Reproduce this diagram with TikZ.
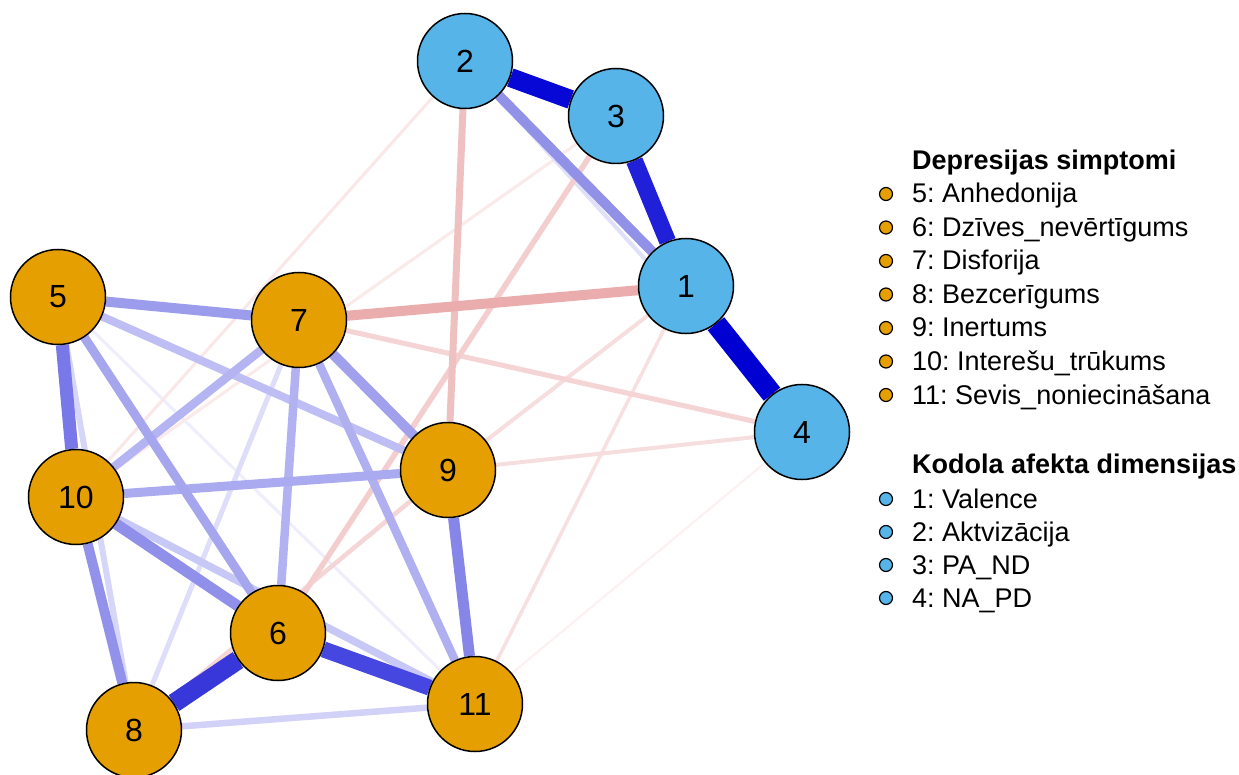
\documentclass[tikz,border=0pt]{standalone}
\usepackage{fontspec}
\setmainfont{Liberation Sans}
\frenchspacing
\pgfdeclarelayer{bg}
\pgfsetlayers{bg,main}
\definecolor{orng}{HTML}{E69F00}
\definecolor{skyb}{HTML}{56B4E9}
\begin{document}
\begin{tikzpicture}[x=1pt,y=-1pt,
  vtx/.style={circle,draw=black,line width=1.5pt,minimum size=95pt,inner sep=0pt,font=\fontsize{32}{32}\selectfont},
  sym/.style={vtx,fill=orng},
  aff/.style={vtx,fill=skyb},
  e/.style 2 args={draw={rgb,255:#1},line width=#2pt,line cap=butt},
  ldot/.style={circle,draw=black,line width=1.2pt,minimum size=13pt,inner sep=0pt},
  ltxt/.style={anchor=base west,font=\fontsize{27}{27}\selectfont,inner sep=0pt},
  lhead/.style={anchor=base west,font=\fontsize{27}{27}\selectfont\bfseries,inner sep=0pt}]
\useasboundingbox (0,0) rectangle (1239,775);
% nodes
\node[aff] (n1) at (686,286) {1};
\node[aff] (n2) at (465,61) {2};
\node[aff] (n3) at (616,116) {3};
\node[aff] (n4) at (802,432) {4};
\node[sym] (n5) at (58,297) {5};
\node[sym] (n6) at (278,633) {6};
\node[sym] (n7) at (299,320) {7};
\node[sym] (n8) at (134,730) {8};
\node[sym] (n9) at (448,470) {9};
\node[sym] (n10) at (76,497) {10};
\node[sym] (n11) at (475,704) {11};
% edges
\begin{pgfonlayer}{bg}
\fill[white] (0,0) rectangle (1239,775);
\draw[e={red,252;green,240;blue,240}{2}] (n11) -- (n4);
\draw[e={red,238;green,238;blue,252}{3}] (n5) -- (n11);
\draw[e={red,250;green,234;blue,234}{3}] (n10) -- (n3);
\draw[e={red,250;green,232;blue,232}{3}] (n10) -- (n2);
\draw[e={red,248;green,224;blue,224}{3.5}] (n11) -- (n1);
\draw[e={red,247;green,222;blue,222}{4}] (n9) -- (n4);
\draw[e={red,247;green,222;blue,222}{4}] (n9) -- (n1);
\draw[e={red,224;green,224;blue,250}{4}] (n2) -- (n4);
\draw[e={red,222;green,222;blue,250}{5}] (n7) -- (n8);
\draw[e={red,245;green,214;blue,214}{4.5}] (n9) -- (n8);
\draw[e={red,244;green,212;blue,212}{5}] (n7) -- (n4);
\draw[e={red,214;green,214;blue,248}{6}] (n5) -- (n8);
\draw[e={red,244;green,206;blue,206}{5.5}] (n3) -- (n6);
\draw[e={red,210;green,210;blue,248}{6.5}] (n8) -- (n11);
\draw[e={red,200;green,200;blue,246}{7.5}] (n10) -- (n11);
\draw[e={red,238;green,192;blue,192}{7}] (n2) -- (n9);
\draw[e={red,190;green,190;blue,244}{8}] (n5) -- (n9);
\draw[e={red,180;green,180;blue,242}{8.5}] (n7) -- (n10);
\draw[e={red,178;green,178;blue,242}{8.5}] (n7) -- (n6);
\draw[e={red,176;green,176;blue,240}{8.5}] (n7) -- (n11);
\draw[e={red,170;green,170;blue,240}{9}] (n10) -- (n9);
\draw[e={red,166;green,166;blue,238}{9}] (n5) -- (n6);
\draw[e={red,234;green,172;blue,172}{10}] (n1) -- (n7);
\draw[e={red,160;green,160;blue,236}{10}] (n7) -- (n9);
\draw[e={red,156;green,156;blue,236}{10}] (n5) -- (n7);
\draw[e={red,146;green,146;blue,234}{10}] (n10) -- (n8);
\draw[e={red,144;green,144;blue,234}{11}] (n10) -- (n6);
\draw[e={red,145;green,145;blue,232}{10}] (n2) -- (n1);
\draw[e={red,134;green,134;blue,232}{11}] (n9) -- (n11);
\draw[e={red,120;green,120;blue,232}{13}] (n5) -- (n10);
\draw[e={red,70;green,70;blue,224}{16}] (n6) -- (n11);
\draw[e={red,56;green,56;blue,218}{19}] (n6) -- (n8);
\draw[e={red,32;green,32;blue,216}{17}] (n3) -- (n1);
\draw[e={red,8;green,8;blue,214}{19}] (n2) -- (n3);
\draw[e={red,0;green,0;blue,210}{21}] (n1) -- (n4);
\end{pgfonlayer}
% legend
\node[lhead] (h1) at (912,170) {Depresijas simptomi};
\node[ldot,fill=orng] (d5) at (886,194) {};
\node[ltxt] (t5) at (912,203) {5: Anhedonija};
\node[ldot,fill=orng] (d6) at (886,227.5) {};
\node[ltxt] (t6) at (912,236.5) {6: Dzīves\_nevērtīgums};
\node[ldot,fill=orng] (d7) at (886,261) {};
\node[ltxt] (t7) at (912,270) {7: Disforija};
\node[ldot,fill=orng] (d8) at (886,294.5) {};
\node[ltxt] (t8) at (912,303.5) {8: Bezcerīgums};
\node[ldot,fill=orng] (d9) at (886,328) {};
\node[ltxt] (t9) at (912,337) {9: Inertums};
\node[ldot,fill=orng] (d10) at (886,361.5) {};
\node[ltxt] (t10) at (912,370.5) {10: Interešu\_trūkums};
\node[ldot,fill=orng] (d11) at (886,395) {};
\node[ltxt] (t11) at (912,404) {11: Sevis\_noniecināšana};
\node[lhead] (h2) at (912,473) {Kodola afekta dimensijas};
\node[ldot,fill=skyb] (d1) at (886,499) {};
\node[ltxt] (t1) at (912,508) {1: Valence};
\node[ldot,fill=skyb] (d2) at (886,532) {};
\node[ltxt] (t2) at (912,541) {2: Aktvizācija};
\node[ldot,fill=skyb] (d3) at (886,565) {};
\node[ltxt] (t3) at (912,574) {3: PA\_ND};
\node[ldot,fill=skyb] (d4) at (886,598) {};
\node[ltxt] (t4) at (912,607) {4: NA\_PD};
\end{tikzpicture}
\end{document}
